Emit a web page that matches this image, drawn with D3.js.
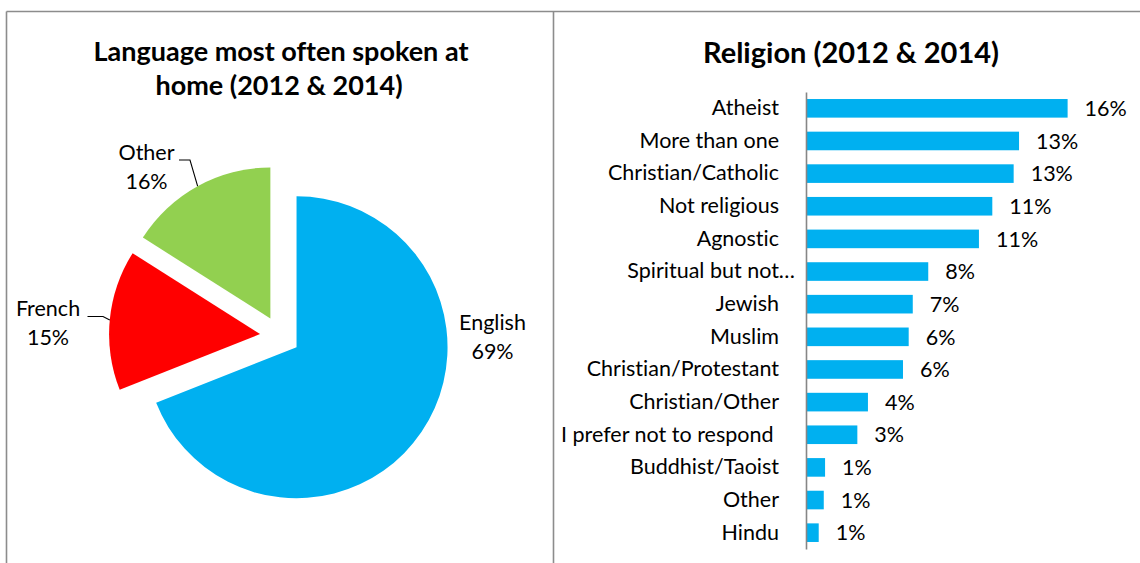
<!DOCTYPE html>
<html>
<head>
<meta charset="utf-8">
<script src="https://cdn.jsdelivr.net/npm/d3@7"></script>
<style>
  html, body { margin: 0; padding: 0; background: #ffffff; }
  svg { display: block; }
  text { font-family: Lato, "Open Sans", sans-serif; fill: #000; font-variant-ligatures: none; font-feature-settings: "liga" 0, "dlig" 0; }
</style>
</head>
<body>
<svg id="chart" width="1140" height="563"></svg>
<script>
// Language most often spoken at home
const languages = ["English", "French", "Other"];
const languageShares = [0.69, 0.15, 0.16];
const languageColors = ["#00B0F0", "#FF0000", "#92D050"];

// Religion
const religions = [
  "Atheist", "More than one", "Christian/Catholic", "Not religious", "Agnostic",
  "Spiritual but not\u2026", "Jewish", "Muslim", "Christian/Protestant",
  "Christian/Other", "I prefer not to respond ", "Buddhist/Taoist", "Other", "Hindu"
];
const religionShares = [
  0.1605, 0.1307, 0.1274, 0.1143, 0.1061, 0.0750, 0.0655,
  0.0630, 0.0595, 0.0380, 0.0315, 0.0117, 0.0109, 0.0078
];

const pctFmt = d3.format(".0%");
const svg = d3.select("#chart");

// ---------- panel frames ----------
const frame = svg.append("g")
  .attr("stroke", "#8c8c8c").attr("stroke-width", 1.6).attr("fill", "none");
frame.append("line").attr("x1", 6.5).attr("y1", 11.5).attr("x2", 1140).attr("y2", 11.5);
frame.append("line").attr("x1", 6.5).attr("y1", 11.5).attr("x2", 6.5).attr("y2", 563);
frame.append("line").attr("x1", 553.5).attr("y1", 11.5).attr("x2", 553.5).attr("y2", 563);

// ---------- pie panel ----------
const leftTitle = svg.append("text")
  .attr("text-anchor", "middle")
  .style("font-weight", "bold").style("font-size", "27px");
leftTitle.append("tspan").attr("x", 281).attr("y", 61).text("Language most often spoken at");
leftTitle.append("tspan").attr("x", 279).attr("y", 95).text("home (2012 & 2014)");

const pieCx = 280, pieCy = 336, pieR = 151, explode = 20;
const pieData = d3.pie().sort(null).value(d => d.share)
  (languages.map((name, i) => ({ name, share: languageShares[i], color: languageColors[i] })));
const arc = d3.arc().innerRadius(0).outerRadius(pieR);

const pieG = svg.append("g").attr("transform", `translate(${pieCx},${pieCy})`);
const midAngle = d => (d.startAngle + d.endAngle) / 2;
const shift = d => [Math.sin(midAngle(d)) * explode, -Math.cos(midAngle(d)) * explode];

pieG.selectAll("path.slice").data(pieData).join("path")
  .attr("class", "slice")
  .attr("d", arc)
  .attr("fill", d => d.data.color)
  .attr("transform", d => `translate(${shift(d)})`);

// label anchors (offsets from pie centre) and leader lines
const labelLayout = {
  English: { dx: 212.5, dy: -6,   leader: null },
  French:  { dx: -232,  dy: -20,  leader: { x0: -192.5, x1: -177, dy: 0.5 } },
  Other:   { dx: -133.5, dy: -176, leader: { x0: -101, x1: -90, dy: 0 } }
};

pieData.forEach(d => {
  const L = labelLayout[d.data.name];
  const t = pieG.append("text").attr("text-anchor", "middle").style("font-size", "21.5px");
  t.append("tspan").attr("x", L.dx).attr("y", L.dy).text(d.data.name);
  t.append("tspan").attr("x", L.dx).attr("y", L.dy + 29).text(pctFmt(d.data.share));
  if (L.leader) {
    const [sx, sy] = shift(d);
    const a = midAngle(d);
    const edge = [sx + Math.sin(a) * pieR, sy - Math.cos(a) * pieR];
    pieG.append("polyline")
      .attr("points", [[L.leader.x0, L.dy + L.leader.dy], [L.leader.x1, L.dy + L.leader.dy], edge].join(" "))
      .attr("fill", "none").attr("stroke", "#000").attr("stroke-width", 1.1);
  }
});

// ---------- bar panel ----------
svg.append("text")
  .attr("x", 851).attr("y", 63)
  .attr("text-anchor", "middle")
  .style("font-weight", "bold").style("font-size", "29px")
  .text("Religion (2012 & 2014)");

const x = d3.scaleLinear().domain([0, 0.18]).range([806, 806 + 293.4]);
const y = d3.scaleBand().domain(religions).range([92, 549])
  .paddingInner(0.43).paddingOuter(0.215);

const rows = religions.map((name, i) => ({ name, share: religionShares[i] }));

svg.append("g").selectAll("rect").data(rows).join("rect")
  .attr("x", x(0))
  .attr("y", d => y(d.name))
  .attr("width", d => x(d.share) - x(0))
  .attr("height", y.bandwidth())
  .attr("fill", "#00B0F0");

svg.append("g").selectAll("text").data(rows).join("text")
  .attr("x", d => x(d.share) + 17)
  .attr("y", d => y(d.name) + y.bandwidth() / 2)
  .attr("dy", "0.36em")
  .style("font-size", "21.5px")
  .text(d => pctFmt(d.share));

const yAxis = svg.append("g")
  .attr("transform", `translate(${x(0)},0)`)
  .call(d3.axisLeft(y).tickSize(0).tickSizeOuter(0).tickPadding(27));
yAxis.select(".domain").attr("stroke", "#868686").attr("stroke-width", 1.6);
yAxis.selectAll(".tick text")
  .style("font-family", "Lato, 'Open Sans', sans-serif")
  .style("font-size", "21.5px")
  .style("white-space", "pre")
  .style("font-variant-ligatures", "none")
  .attr("fill", "#000")
  .attr("dx", d => d.endsWith("\u2026") ? 16 : 0);
</script>
</body>
</html>
